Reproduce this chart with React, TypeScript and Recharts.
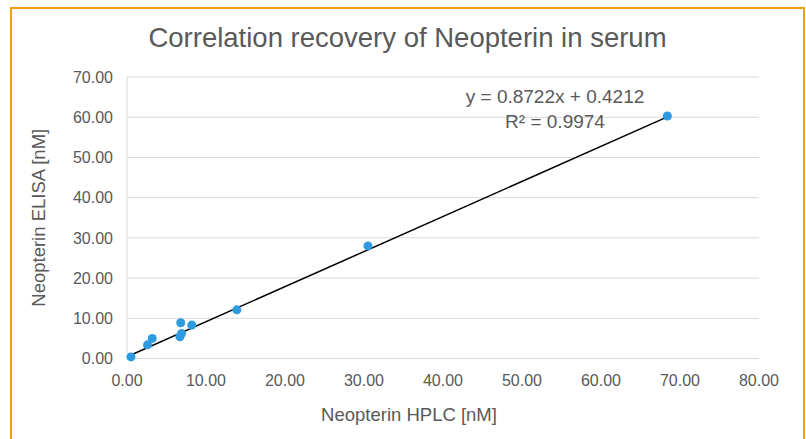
import {
  ScatterChart,
  Scatter,
  XAxis,
  YAxis,
  CartesianGrid,
  Label
} from "recharts";

// values
const hplc = [0.5, 2.6, 3.2, 6.7, 6.9, 6.8, 8.2, 13.9, 30.5, 68.4];
const elisa = [0.4, 3.4, 5.0, 5.4, 6.2, 8.9, 8.3, 12.1, 28.0, 60.3];

const slope = 0.8722;
const intercept = 0.4212;
const rSquared = 0.9974;

const xTicks = [0, 10, 20, 30, 40, 50, 60, 70, 80];
const yTicks = [0, 10, 20, 30, 40, 50, 60, 70];

const points = hplc.map((x, i) => ({ x, y: elisa[i] }));

const minX = Math.min(...hplc);
const maxX = Math.max(...hplc);
const trend = [
  { x: minX, y: slope * minX + intercept },
  { x: maxX, y: slope * maxX + intercept }
];

const grey = "#595959";
const font = "'Liberation Sans', Arial, sans-serif";

export default function App() {
  return (
    <div
      style={{
        position: "absolute",
        left: 10,
        top: 7,
        width: 791,
        height: 440,
        borderLeft: "2px solid #f39c12",
        borderTop: "2px solid #f39c12",
        borderRight: "2px solid #f39c12",
        background: "#fff",
        fontFamily: font
      }}
    >
      <div
        style={{
          position: "absolute",
          left: 0,
          top: 13,
          width: 791,
          textAlign: "center",
          fontSize: 27.5,
          color: grey
        }}
      >
        Correlation recovery of Neopterin in serum
      </div>

      <div
        style={{
          position: "absolute",
          left: 393,
          top: 75,
          width: 300,
          textAlign: "center",
          fontSize: 19,
          color: grey,
          lineHeight: "25px",
          zIndex: 2
        }}
      >
        <div>y = {slope.toFixed(4)}x + {intercept.toFixed(4)}</div>
        <div>R² = {rSquared.toFixed(4)}</div>
      </div>

      <ScatterChart
        width={791}
        height={430}
        margin={{ top: 68, right: 44, bottom: 20, left: 20 }}
        style={{ fontFamily: font }}
      >
        <CartesianGrid vertical={false} stroke="#d9d9d9" />

        <XAxis
          type="number"
          dataKey="x"
          domain={[0, 80]}
          ticks={xTicks}
          tickFormatter={(v) => v.toFixed(2)}
          tickLine={false}
          axisLine={{ stroke: "#d9d9d9" }}
          tickMargin={10}
          tick={{ fill: grey, fontSize: 16 }}
          height={60.5}
          interval={0}
        >
          <Label
            value="Neopterin HPLC [nM]"
            position="insideBottom"
            offset={-2}
            dx={-34}
            style={{ fill: grey, fontSize: 18.5 }}
          />
        </XAxis>

        <YAxis
          type="number"
          dataKey="y"
          domain={[0, 70]}
          ticks={yTicks}
          tickFormatter={(v) => v.toFixed(2)}
          tickLine={false}
          axisLine={{ stroke: "#d9d9d9" }}
          tickMargin={8}
          tick={{ fill: grey, fontSize: 16 }}
          width={95}
          interval={0}
        >
          <Label
            value="Neopterin ELISA [nM]"
            angle={-90}
            position="insideLeft"
            offset={6}
            style={{ fill: grey, fontSize: 18.5, textAnchor: "middle" }}
          />
        </YAxis>

        <Scatter
          data={trend}
          line={{ stroke: "#000", strokeWidth: 1.5 }}
          shape={() => null}
          isAnimationActive={false}
        />

        <Scatter
          data={points}
          fill="#2e9be0"
          shape="circle"
          isAnimationActive={false}
        />
      </ScatterChart>
    </div>
  );
}
